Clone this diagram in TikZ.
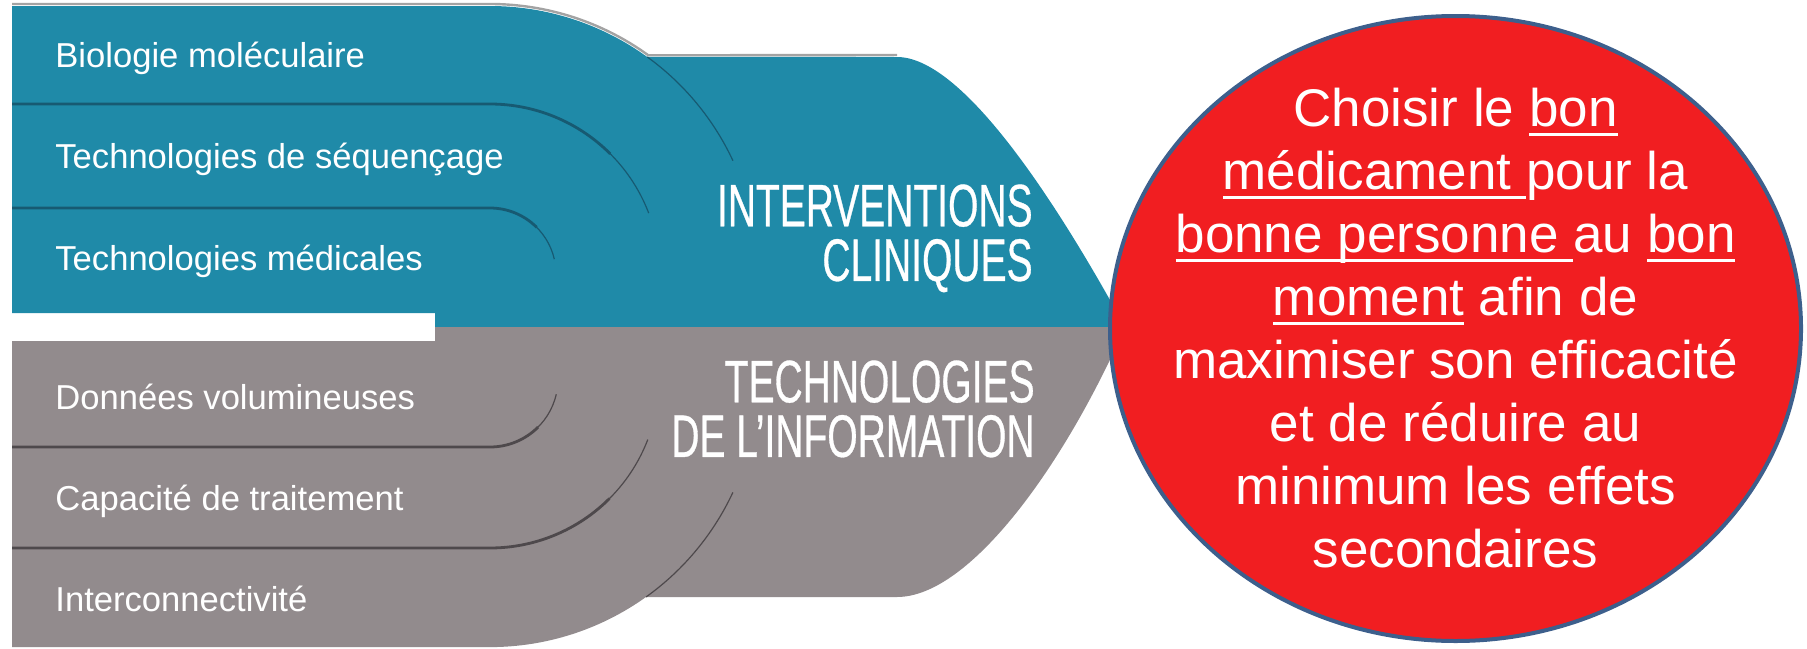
\documentclass[tikz,border=0pt]{standalone}
\usepackage{fontspec}
\setmainfont{Liberation Sans}
\newfontfamily\condfont[FakeStretch=0.65, FakeBold=0.5]{Liberation Sans}
\usetikzlibrary{shapes.geometric}

\definecolor{bandteal}{HTML}{1F8AA8}
\definecolor{bandgray}{HTML}{928B8D}
\definecolor{septeal}{HTML}{175A72}
\definecolor{sepgray}{HTML}{4E494C}
\definecolor{edgegray}{HTML}{A3A3A3}
\definecolor{goalred}{HTML}{F11E21}
\definecolor{goalblue}{HTML}{3D5F8C}

% underline that ignores descenders
\newcommand{\uword}[1]{\setbox0\hbox{#1}\rlap{\rule[-0.17em]{\wd0}{0.06em}}\box0\relax}

\tikzset{
  item/.style={font=\fontsize{17.3pt}{20pt}\selectfont, text=white, anchor=base west, inner sep=0pt},
  heading/.style={font=\condfont\fontsize{30pt}{27.3pt}\selectfont, text=white, align=right,
    anchor=north east, inner sep=0pt},
  tealsep/.style={draw=septeal, line width=1.4pt},
  graysep/.style={draw=sepgray, line width=1.4pt},
  tail/.style={line width=0.6pt},
  goalshape/.style={ellipse, minimum width=345.5pt, minimum height=312.5pt, inner sep=0pt,
    fill=goalred, draw=goalblue, line width=2pt},
  goaltext/.style={align=center, text=white, inner sep=0pt,
    font=\fontsize{26.5pt}{31.5pt}\selectfont}
}

\begin{document}
\begin{tikzpicture}[x=0.5pt, y=-0.5pt]
\useasboundingbox (0,0) rectangle (1807,648);

% soft edge along the top
\draw[edgegray, line width=1.2pt] (12,4) -- (490,4) arc[start angle=90, end angle=54.1, radius=135pt]
  -- (897,55);

% teal band
\fill[bandteal] (12,6) -- (490,6) arc[start angle=90, end angle=54.1, radius=134pt]
  -- (897,57) .. controls (960,57) and (1050,190) .. (1125,327)
  -- (435,327) -- (435,313) -- (12,313) -- cycle;

% gray band
\fill[bandgray] (12,341) -- (435,341) -- (435,327) -- (1125,327)
  .. controls (1065,464) and (970,597) .. (897,597) -- (646,597)
  arc[start angle=-54.4, end angle=-90, radius=134pt] -- (12,647) -- cycle;

% row separators, teal
\coordinate (tjoin) at (647.2,56.9);
\draw[tealsep, tail] (tjoin) arc[start angle=54.1, end angle=25, radius=134pt];
\draw[tealsep, tail] (12,104) -- (490,104) arc[start angle=90, end angle=21, radius=85pt];
\draw[tealsep] (12,104) -- (490,104) arc[start angle=90, end angle=45, radius=85pt];
\draw[tealsep, tail] (12,208) -- (490,208) arc[start angle=90, end angle=13, radius=33pt];
\draw[tealsep] (12,208) -- (490,208) arc[start angle=90, end angle=45, radius=33pt];

% row separators, gray
\coordinate (gjoin) at (646,597);
\draw[graysep, tail] (gjoin) arc[start angle=-54.4, end angle=-25, radius=134pt];
\draw[graysep, tail] (12,548) -- (490,548) arc[start angle=-90, end angle=-21, radius=84.5pt];
\draw[graysep] (12,548) -- (490,548) arc[start angle=-90, end angle=-45, radius=84.5pt];
\draw[graysep, tail] (12,447) -- (490,447) arc[start angle=-90, end angle=-13, radius=34pt];
\draw[graysep] (12,447) -- (490,447) arc[start angle=-90, end angle=-45, radius=34pt];

% rows
\node[item] (bio) at (55,67) {Biologie moléculaire};
\node[item] (seq) at (55,168) {Technologies de séquençage};
\node[item] (med) at (55,270) {Technologies médicales};
\node[item] (data) at (55,409) {Données volumineuses};
\node[item] (cpu) at (55,510) {Capacité de traitement};
\node[item] (net) at (55,611) {Interconnectivité};

% band titles
\node[heading] (clin) at (1033,184) {INTERVENTIONS\\CLINIQUES};
\node[heading] (info) at (1035,360) {TECHNOLOGIES\\DE L’INFORMATION};

% goal
\node[goalshape] (goal) at (1455.5,328.5) {};
\node[goaltext] (msg) at (goal.center) {Choisir le \uword{bon}\\
  \uword{médicament\ }pour la\\
  \uword{bonne personne\ }au \uword{bon}\\
  \uword{moment} afin de\\
  maximiser son efficacité\\
  et de réduire au\\
  minimum les effets\\
  secondaires};
\end{tikzpicture}
\end{document}
